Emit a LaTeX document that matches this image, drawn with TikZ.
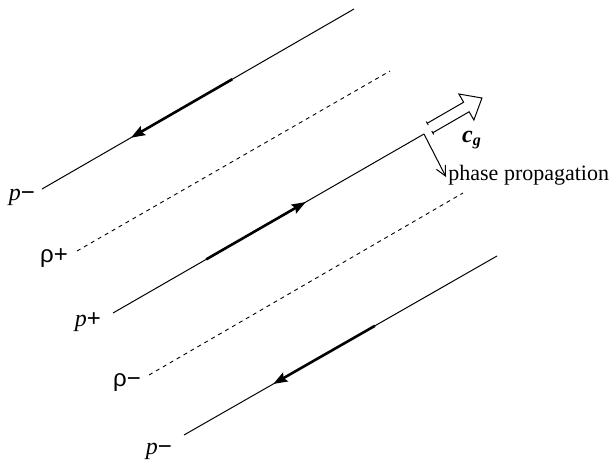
\documentclass[tikz,border=0pt]{standalone}
\usepackage{fontspec}
\setmainfont{Liberation Serif}
\newfontfamily\rhofont{Liberation Sans}
\usetikzlibrary{arrows.meta,positioning,calc}
\newcommand{\sgn}[1]{{\rhofont #1}}
\tikzset{
    crest/.style={
        line width=0.5pt
    },
    trough/.style={
        line width=0.45pt,
        dash pattern=on 2pt off 2pt
    },
    flow/.style={
        line width=1.3pt,
        -{Stealth[length=7pt,width=5pt,inset=1pt]}
    },
    wavelabel/.style={
        inner sep=0pt,
        font=\fontsize{12}{14}\selectfont
    }
}

\begin{document}
\begin{tikzpicture}[x=0.5pt, y=-0.5pt]
\useasboundingbox (0,0) rectangle (614,460);

% p- (top)
\coordinate (pm1-a) at (42,189);
\coordinate (pm1-b) at (354,9);
\node[wavelabel] (pm1-label) at (22,197) {\textit{p}\sgn{−}};
\draw[crest] (pm1-a) -- (pm1-b);
\draw[flow] ($(pm1-a)!0.61!(pm1-b)$) -- ($(pm1-a)!0.285!(pm1-b)$);

% rho+
\coordinate (rp-a) at (77,251);
\coordinate (rp-b) at (390,71);
\node[wavelabel, font=\rhofont\fontsize{12}{14}\selectfont] (rp-label) at (54,258) {ρ+};
\draw[trough] (rp-a) -- (rp-b);

% p+
\coordinate (pp-a) at (113,313);
\coordinate (pp-b) at (424,134);
\node[wavelabel] (pp-label) at (88,322) {\textit{p}\sgn{+}};
\draw[crest] (pp-a) -- (pp-b);
\draw[flow] ($(pp-a)!0.30!(pp-b)$) -- ($(pp-a)!0.62!(pp-b)$);

% rho-
\coordinate (rm-a) at (149,375);
\coordinate (rm-b) at (463,193);
\node[wavelabel, font=\rhofont\fontsize{12}{14}\selectfont] (rm-label) at (127,383) {ρ−};
\draw[trough] (rm-a) -- (rm-b);

% p- (bottom)
\coordinate (pm2-a) at (184,435);
\coordinate (pm2-b) at (497,256);
\node[wavelabel] (pm2-label) at (159,451) {\textit{p}\sgn{−}};
\draw[crest] (pm2-a) -- (pm2-b);
\draw[flow] ($(pm2-a)!0.61!(pm2-b)$) -- ($(pm2-a)!0.285!(pm2-b)$);

% group velocity (open arrow)
\coordinate (cg-base) at (430,128);
\begin{scope}[shift={(cg-base)}, rotate=30, line width=0.5pt]
    \draw (0,-5.5) -- (42,-5.5) -- (42,-15) -- (60,0) -- (42,15) -- (42,5.5) -- (0,5.5);
    \draw (0,-7.5) -- (0,-3.5);
    \draw (0,3.5) -- (0,7.5);
\end{scope}
\node[wavelabel] (cg-label) at (472,140) {\textbf{\textit{c\textsubscript{g}}}};

% phase propagation
\coordinate (phase-end) at (446,177);
\draw[line width=0.5pt, -{Straight Barb[length=5pt,width=5pt]}] (pp-b) -- (phase-end);
\node[wavelabel, font=\fontsize{11}{13}\selectfont, anchor=base west] (phase-label) at (448,180) {phase propagation};
\end{tikzpicture}
\end{document}
